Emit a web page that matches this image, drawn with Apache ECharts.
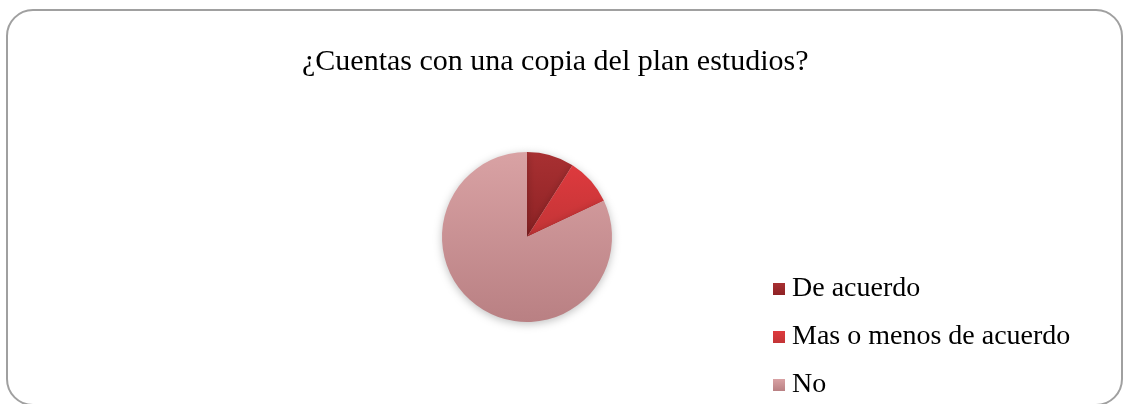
<!DOCTYPE html>
<html>
<head>
<meta charset="utf-8">
<script src="https://cdn.jsdelivr.net/npm/echarts@6/dist/echarts.min.js"></script>
<style>
html,body{margin:0;padding:0;background:#fff;}
#c{width:1128px;height:404px;}
</style>
</head>
<body>
<div id="c"></div>
<script>
const titleText = '¿Cuentas con una copia del plan estudios?';
const categories = ['De acuerdo', 'Mas o menos de acuerdo', 'No'];
const values = [9, 9, 82];
const colors = ['#a02a2b', '#cc383b', '#cc9092'];

const chart = echarts.init(document.getElementById('c'));
const gradients = [
  ['#a83032', '#8e2224'],
  ['#de3a3e', '#c23436'],
  ['#d9a2a4', '#b98083']
];
const data = categories.map((name, i) => ({
  name: name,
  value: values[i],
  itemStyle: {
    color: new echarts.graphic.LinearGradient(0, 0, 0, 1, [
      { offset: 0, color: gradients[i][0] },
      { offset: 1, color: gradients[i][1] }
    ])
  }
}));

chart.setOption({
  animation: false,
  backgroundColor: '#ffffff',
  color: colors,
  graphic: [{
    type: 'rect',
    shape: { x: 7, y: 10, width: 1115, height: 395, r: 26 },
    style: { fill: 'none', stroke: '#a0a0a0', lineWidth: 2 },
    z: -1
  }],
  title: {
    text: titleText,
    left: 297,
    top: 42,
    textStyle: {
      fontFamily: 'Liberation Serif',
      fontSize: 30,
      fontWeight: 'normal',
      color: '#000'
    }
  },
  legend: {
    orient: 'vertical',
    left: 768,
    top: 270,
    itemWidth: 12,
    itemHeight: 12,
    itemGap: 20,
    icon: 'rect',
    data: categories,
    textStyle: {
      fontFamily: 'Liberation Serif',
      fontSize: 28,
      color: '#000',
      padding: [0, 0, 0, 2]
    }
  },
  series: [{
    type: 'pie',
    center: [527, 237],
    radius: 85,
    startAngle: 90,
    clockwise: true,
    label: { show: false },
    labelLine: { show: false },
    emphasis: { disabled: true },
    itemStyle: {
      borderWidth: 0,
      shadowBlur: 8,
      shadowColor: 'rgba(0,0,0,0.25)',
      shadowOffsetY: 2
    },
    data: data
  }]
});
</script>
</body>
</html>
